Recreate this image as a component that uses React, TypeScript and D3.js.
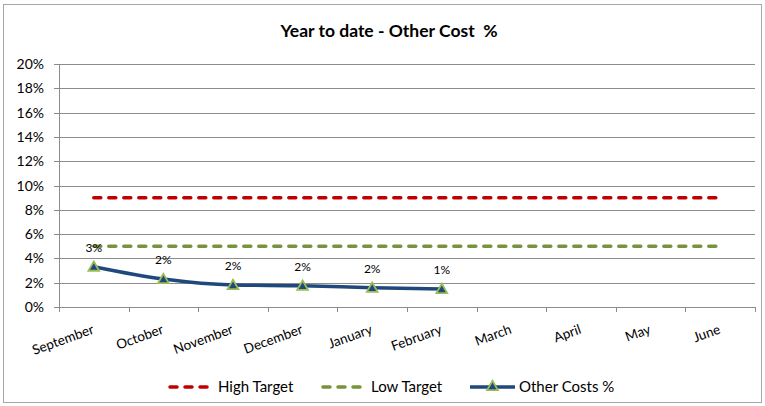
import React from "react";
import * as d3 from "d3";

const categories = ["September", "October", "November", "December", "January", "February", "March", "April", "May", "June"];
const otherCosts = [3.32, 2.3, 1.81, 1.75, 1.59, 1.48];
const pointLabels = ["3%", "2%", "2%", "2%", "2%", "1%"];
const highTarget = [9, 9, 9, 9, 9, 9, 9, 9, 9, 9];
const lowTarget = [5, 5, 5, 5, 5, 5, 5, 5, 5, 5];
const yTicks = [0, 2, 4, 6, 8, 10, 12, 14, 16, 18, 20];

const W = 765, H = 406;
const FONT = "Lato, 'Open Sans', sans-serif";

export default function App() {
  const x = d3.scaleBand<string>().domain(categories).range([59, 755]);
  const y = d3.scaleLinear().domain([0, 20]).range([307, 64]);
  const cx = (c: string) => (x(c) as number) + x.bandwidth() / 2;

  const line = d3.line<number>().x((_, i) => cx(categories[i])).y((d) => y(d));
  const smooth = d3.line<number>().x((_, i) => cx(categories[i])).y((d) => y(d)).curve(d3.curveMonotoneX);

  const tri = d3.symbol().type(d3.symbolTriangle).size(50)();

  const legendY = 387;

  return (
    <svg width={W} height={H} style={{ position: "absolute", left: 0, top: 0 }}>
      <rect x={0} y={0} width={W} height={H} fill="#fff" />
      <rect x={3.5} y={4.5} width={758} height={398} fill="#fff" stroke="#a6a6a6" strokeWidth={1} />
      <text x={389} y={37} textAnchor="middle" fontFamily={FONT} fontWeight="bold" fontSize={17.5} fill="#000" style={{ whiteSpace: "pre" }}>
        {"Year to date - Other Cost  %"}
      </text>
      {yTicks.map((t) => (
        <g key={t}>
          <line x1={54} x2={755} y1={Math.round(y(t)) + 0.5} y2={Math.round(y(t)) + 0.5} stroke="#8c8c8c" strokeWidth={1} />
          <text x={44} y={y(t) + 5} textAnchor="end" fontFamily={FONT} fontSize={14} fill="#000">
            {t}%
          </text>
        </g>
      ))}
      <line x1={59.5} x2={59.5} y1={64} y2={307} stroke="#8c8c8c" strokeWidth={1} />
      {categories.map((c, i) => (
        <line key={"t" + i} x1={Math.round(x(c) as number) + 0.5} x2={Math.round(x(c) as number) + 0.5} y1={307} y2={312} stroke="#8c8c8c" />
      ))}
      <line x1={755.5} x2={755.5} y1={307} y2={312} stroke="#8c8c8c" />
      {categories.map((c) => (
        <text key={c} transform={`translate(${cx(c) + 1},${333}) rotate(-20)`} textAnchor="end" fontFamily={FONT} fontSize={13.5} fill="#000">
          {c}
        </text>
      ))}
      <path d={line(highTarget) || ""} fill="none" stroke="#c00000" strokeWidth={3.5} strokeDasharray="7,8" strokeLinecap="round" />
      <path d={line(lowTarget) || ""} fill="none" stroke="#77933c" strokeWidth={3.5} strokeDasharray="7,8" strokeLinecap="round" />
      <path d={smooth(otherCosts) || ""} fill="none" stroke="#1f497d" strokeWidth={3.5} />
      {otherCosts.map((v, i) => (
        <g key={"p" + i}>
          <path d={tri} transform={`translate(${cx(categories[i])},${y(v) + 1})`} fill="#1f497d" stroke="#9bbb59" strokeWidth={1.8} />
          <text x={cx(categories[i])} y={y(v) - 15} textAnchor="middle" fontFamily={FONT} fontSize={12} fill="#000">
            {pointLabels[i]}
          </text>
        </g>
      ))}
      <g>
        <line x1={170} x2={208} y1={legendY} y2={legendY} stroke="#c00000" strokeWidth={3.5} strokeDasharray="7,8" strokeLinecap="round" />
        <text x={218} y={legendY + 5} fontFamily={FONT} fontSize={15} fill="#000">High Target</text>
        <line x1={323} x2={361} y1={legendY} y2={legendY} stroke="#77933c" strokeWidth={3.5} strokeDasharray="7,8" strokeLinecap="round" />
        <text x={371} y={legendY + 5} fontFamily={FONT} fontSize={15} fill="#000">Low Target</text>
        <line x1={470} x2={515} y1={legendY} y2={legendY} stroke="#1f497d" strokeWidth={3.5} />
        <path d={tri} transform={`translate(492.5,${legendY})`} fill="#1f497d" stroke="#9bbb59" strokeWidth={1.8} />
        <text x={519} y={legendY + 5} fontFamily={FONT} fontSize={15} fill="#000">Other Costs %</text>
      </g>
    </svg>
  );
}
